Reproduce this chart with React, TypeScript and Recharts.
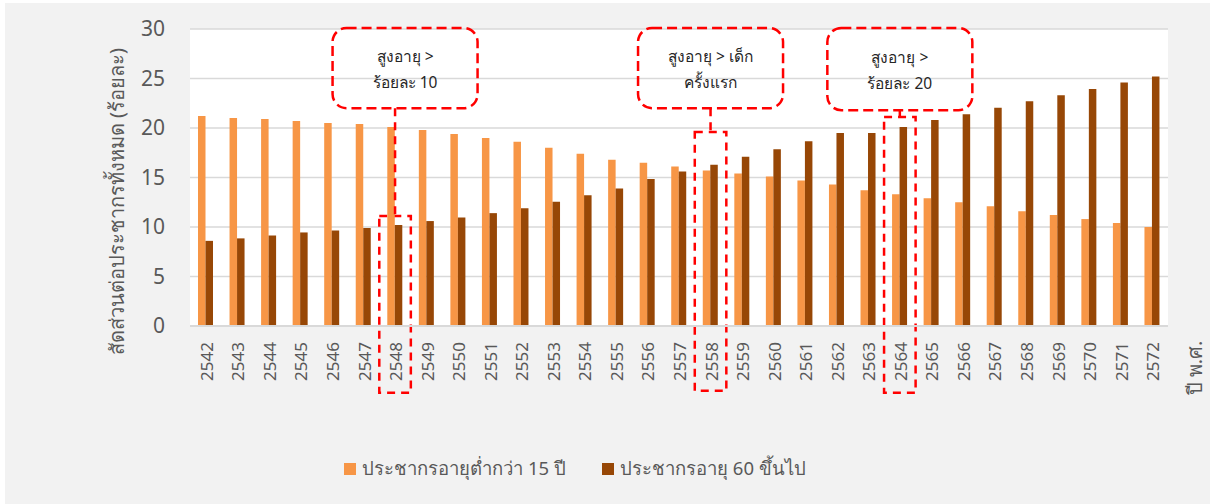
import { Bar, BarChart, CartesianGrid, Label, Legend, ReferenceArea, ReferenceLine, XAxis, YAxis } from 'recharts'

const years = [
  '2542', '2543', '2544', '2545', '2546', '2547', '2548', '2549', '2550', '2551', '2552',
  '2553', '2554', '2555', '2556', '2557', '2558', '2559', '2560', '2561', '2562', '2563',
  '2564', '2565', '2566', '2567', '2568', '2569', '2570', '2571', '2572',
]
const under15 = [
  21.2, 21.0, 20.9, 20.7, 20.5, 20.4, 20.1, 19.8, 19.4, 19.0, 18.6,
  18.0, 17.4, 16.8, 16.5, 16.1, 15.7, 15.4, 15.1, 14.7, 14.3, 13.7,
  13.3, 12.9, 12.5, 12.1, 11.6, 11.2, 10.8, 10.4, 10.0,
]
const over60 = [
  8.6, 8.85, 9.15, 9.45, 9.65, 9.9, 10.2, 10.6, 10.95, 11.4, 11.9,
  12.55, 13.2, 13.9, 14.85, 15.6, 16.3, 17.1, 17.85, 18.65, 19.5, 19.5,
  20.1, 20.8, 21.4, 22.05, 22.7, 23.3, 23.95, 24.6, 25.2,
]
const yTicks = [0, 5, 10, 15, 20, 25, 30]

const seriesNames = ['ประชากรอายุต่ำกว่า 15 ปี', 'ประชากรอายุ 60 ขึ้นไป']
const seriesColors = ['#f79646', '#974706']

// call-outs marking the milestone years
const noteYears = ['2548', '2558', '2564']
const noteLines = [
  ['สูงอายุ >', 'ร้อยละ 10'],
  ['สูงอายุ > เด็ก', 'ครั้งแรก'],
  ['สูงอายุ >', 'ร้อยละ 20'],
]
const noteLayout = [
  { boxTop: 30.1, boxBottom: 22.0, markTop: 11.1, markBottom: -6.75, dx: 10 },
  { boxTop: 30.1, boxBottom: 22.0, markTop: 19.6, markBottom: -6.55, dx: 0 },
  { boxTop: 30.1, boxBottom: 21.8, markTop: 21.1, markBottom: -6.75, dx: 0 },
]

const data = years.map((year, i) => ({ year, under15: under15[i], over60: over60[i] }))

const FONT = '"Noto Sans", sans-serif'
const TEXT = '#595959'
const RED = '#ff0000'

const YearTick = ({ x, y, payload }: any) => (
  <text
    transform={`translate(${x + 7},${y + 16}) rotate(-90)`}
    textAnchor="end"
    fontSize={17}
    fill={TEXT}
    fontFamily={FONT}
  >
    {payload.value}
  </text>
)

const makeCallout = (lines: string[], dx: number) => (props: any) => {
  const { x, y, width, height } = props
  const cx = x + width / 2 + dx
  const w = 145
  return (
    <g>
      <rect
        x={cx - w / 2}
        y={y}
        width={w}
        height={height}
        rx={14}
        ry={14}
        fill="none"
        stroke={RED}
        strokeWidth={2.5}
        strokeDasharray="10 5"
      />
      {lines.map((line, i) => (
        <text
          key={i}
          x={cx}
          y={y + height / 2 - 12 + i * 26}
          textAnchor="middle"
          dominantBaseline="central"
          fontSize={15.5}
          fill="#262626"
          fontFamily={FONT}
        >
          {line}
        </text>
      ))}
    </g>
  )
}

const LegendContent = () => (
  <div
    style={{
      display: 'flex',
      justifyContent: 'center',
      gap: 36,
      paddingTop: 18,
      paddingRight: 60,
      fontFamily: FONT,
      fontSize: 18.5,
      color: TEXT,
    }}
  >
    {seriesNames.map((name, i) => (
      <div key={name} style={{ display: 'flex', alignItems: 'center' }}>
        <span style={{ width: 12, height: 12, background: seriesColors[i], marginRight: 6 }} />
        <span>{name}</span>
      </div>
    ))}
  </div>
)

export default function App() {
  return (
    <div style={{ position: 'absolute', left: 0, top: 0, width: 1210, height: 504, background: '#fff' }}>
      <div style={{ position: 'absolute', left: 5, top: 3, width: 1205, height: 501, background: '#f2f2f2' }} />
      <div style={{ position: 'absolute', left: 0, top: 0 }}>
        <BarChart
          width={1210}
          height={504}
          data={data}
          margin={{ top: 29, right: 42, bottom: 0, left: 0 }}
          barGap={0}
          barSize={7.5}
        >
          <CartesianGrid vertical={false} stroke="#d9d9d9" strokeWidth={1.5} fill="#ffffff" />
          <XAxis
            dataKey="year"
            interval={0}
            height={110}
            tickLine={false}
            tickSize={0}
            tickMargin={0}
            stroke="#d9d9d9"
            strokeWidth={2}
            tick={<YearTick />}
          >
            <Label
              content={({ viewBox }: any) => (
                <text
                  transform={`translate(${viewBox.x + viewBox.width + 26},${viewBox.y + 42}) rotate(-90)`}
                  textAnchor="middle"
                  dominantBaseline="central"
                  fontSize={20}
                  fill={TEXT}
                  fontFamily={FONT}
                >
                  ปี พ.ศ.
                </text>
              )}
            />
          </XAxis>
          <YAxis
            width={190}
            domain={[0, 30]}
            ticks={yTicks}
            axisLine={false}
            tickLine={false}
            tickSize={0}
            tickMargin={25}
            tick={{ fontSize: 21, fill: TEXT, fontFamily: FONT }}
          >
            <Label
              value="สัดส่วนต่อประชากรทั้งหมด (ร้อยละ)"
              angle={-90}
              position="insideLeft"
              dx={112}
              dy={24}
              style={{ textAnchor: 'middle', fontSize: 20, fill: TEXT, fontFamily: FONT }}
            />
          </YAxis>
          <Legend verticalAlign="bottom" height={68} content={<LegendContent />} wrapperStyle={{ left: 0, width: 1210 }} />
          <Bar dataKey="under15" name={seriesNames[0]} fill={seriesColors[0]} isAnimationActive={false} />
          <Bar dataKey="over60" name={seriesNames[1]} fill={seriesColors[1]} isAnimationActive={false} />
          {noteYears.map((yr, i) => (
            <ReferenceArea
              key={`mark-${yr}`}
              x1={yr}
              x2={yr}
              y1={noteLayout[i].markBottom}
              y2={noteLayout[i].markTop}
              ifOverflow="visible"
              fill="none"
              stroke={RED}
              strokeWidth={2.5}
              strokeDasharray="8 6"
            />
          ))}
          {noteYears.map((yr, i) => (
            <ReferenceLine
              key={`link-${yr}`}
              segment={[
                { x: yr, y: noteLayout[i].boxBottom },
                { x: yr, y: noteLayout[i].markTop },
              ]}
              ifOverflow="visible"
              stroke={RED}
              strokeWidth={2.5}
              strokeDasharray="8 6"
            />
          ))}
          {noteYears.map((yr, i) => (
            <ReferenceArea
              key={`note-${yr}`}
              x1={yr}
              x2={yr}
              y1={noteLayout[i].boxBottom}
              y2={noteLayout[i].boxTop}
              ifOverflow="visible"
              shape={makeCallout(noteLines[i], noteLayout[i].dx)}
            />
          ))}
        </BarChart>
      </div>
    </div>
  )
}
